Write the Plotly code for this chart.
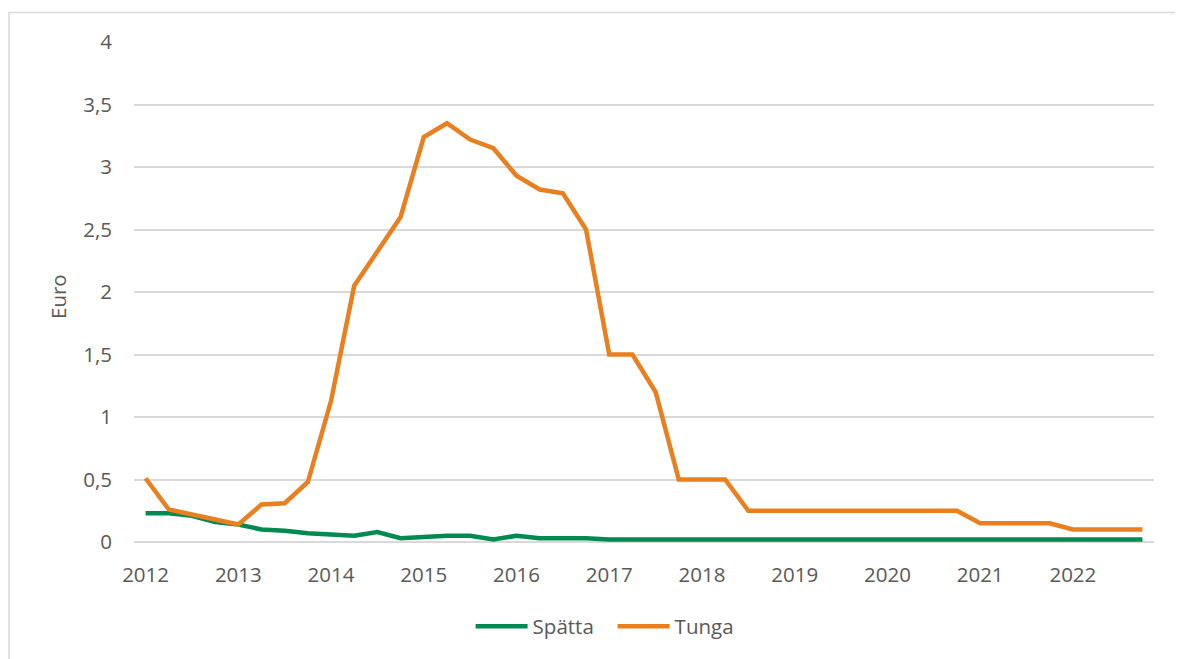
import plotly.graph_objects as go

years = [str(y) for y in range(2012, 2023)]
quarters = ["Q1", "Q2", "Q3", "Q4"]
periods = [f"{y} {q}" for y in years for q in quarters]

spatta = [0.23, 0.23, 0.21, 0.16, 0.14, 0.10, 0.09, 0.07, 0.06, 0.05, 0.08,
          0.03, 0.04, 0.05, 0.05, 0.02, 0.05, 0.03, 0.03, 0.03,
          0.02, 0.02, 0.02, 0.02, 0.02, 0.02, 0.02, 0.02, 0.02, 0.02, 0.02, 0.02,
          0.02, 0.02, 0.02, 0.02, 0.02, 0.02, 0.02, 0.02, 0.02, 0.02, 0.02, 0.02]

tunga = [0.51, 0.26, 0.22, 0.18, 0.14, 0.30, 0.31, 0.48, 1.13, 2.05, 2.32,
         2.60, 3.24, 3.35, 3.22, 3.15, 2.93, 2.82, 2.79, 2.50, 1.50, 1.50,
         1.20, 0.50, 0.50, 0.50, 0.25, 0.25, 0.25, 0.25, 0.25, 0.25, 0.25,
         0.25, 0.25, 0.25, 0.15, 0.15, 0.15, 0.15, 0.10, 0.10, 0.10, 0.10]

tick_positions = [f"{y} Q1" for y in years]

GREEN = "#008A52"
ORANGE = "#EA7F1F"
TEXT = "#595959"
GRID = "#D9D9D9"
FONT = "Open Sans"
FS = 20.5

# page body has an 8px default margin, so the figure is offset by 8px
W, H = 1175, 651
L, T = 126, 34
R = 8 + W - 1154
B = 8 + H - 544

fig = go.Figure()
fig.add_trace(go.Scatter(x=periods, y=spatta, name="Spätta", mode="lines",
                         line=dict(color=GREEN, width=4.5)))
fig.add_trace(go.Scatter(x=periods, y=tunga, name="Tunga", mode="lines",
                         line=dict(color=ORANGE, width=4.5)))

fig.update_layout(
    width=W, height=H,
    margin=dict(l=L, r=R, t=T, b=B, pad=0),
    paper_bgcolor="white", plot_bgcolor="white",
    font=dict(family=FONT, size=FS, color=TEXT),
    separators=",.",
    showlegend=True,
    legend=dict(orientation="h", x=0.33, xanchor="left", y=-0.169, yanchor="middle",
                entrywidth=75, itemwidth=52,
                font=dict(family=FONT, size=FS, color=TEXT), bgcolor="rgba(0,0,0,0)"),
    xaxis=dict(type="category", categoryorder="array", categoryarray=periods,
               range=[-0.5, len(periods) - 0.5],
               tickmode="array", tickvals=tick_positions, ticktext=years,
               showgrid=False, showline=False, zeroline=False, ticks="",
               ticklabelstandoff=18, tickfont=dict(size=FS, color=TEXT)),
    yaxis=dict(range=[0, 4], dtick=0.5, tick0=0,
               showgrid=True, gridcolor=GRID, gridwidth=1.5,
               zeroline=True, zerolinecolor=GRID, zerolinewidth=1.5,
               showline=False, ticks="", ticklabelstandoff=21,
               tickfont=dict(size=FS, color=TEXT)),
    annotations=[dict(text="Euro", textangle=-90, xref="paper", yref="paper",
                      x=(58 - 134) / 1020, y=0.49, xanchor="center", yanchor="middle",
                      showarrow=False, font=dict(family=FONT, size=FS, color=TEXT))],
    shapes=[dict(type="rect", xref="paper", yref="paper",
                 x0=(9 - 134) / 1020, x1=1.2, y0=-0.4, y1=(544 - 12.5) / 502,
                 line=dict(color=GRID, width=1.5), fillcolor="rgba(0,0,0,0)", layer="below")],
)

fig.write_html("out.html")
